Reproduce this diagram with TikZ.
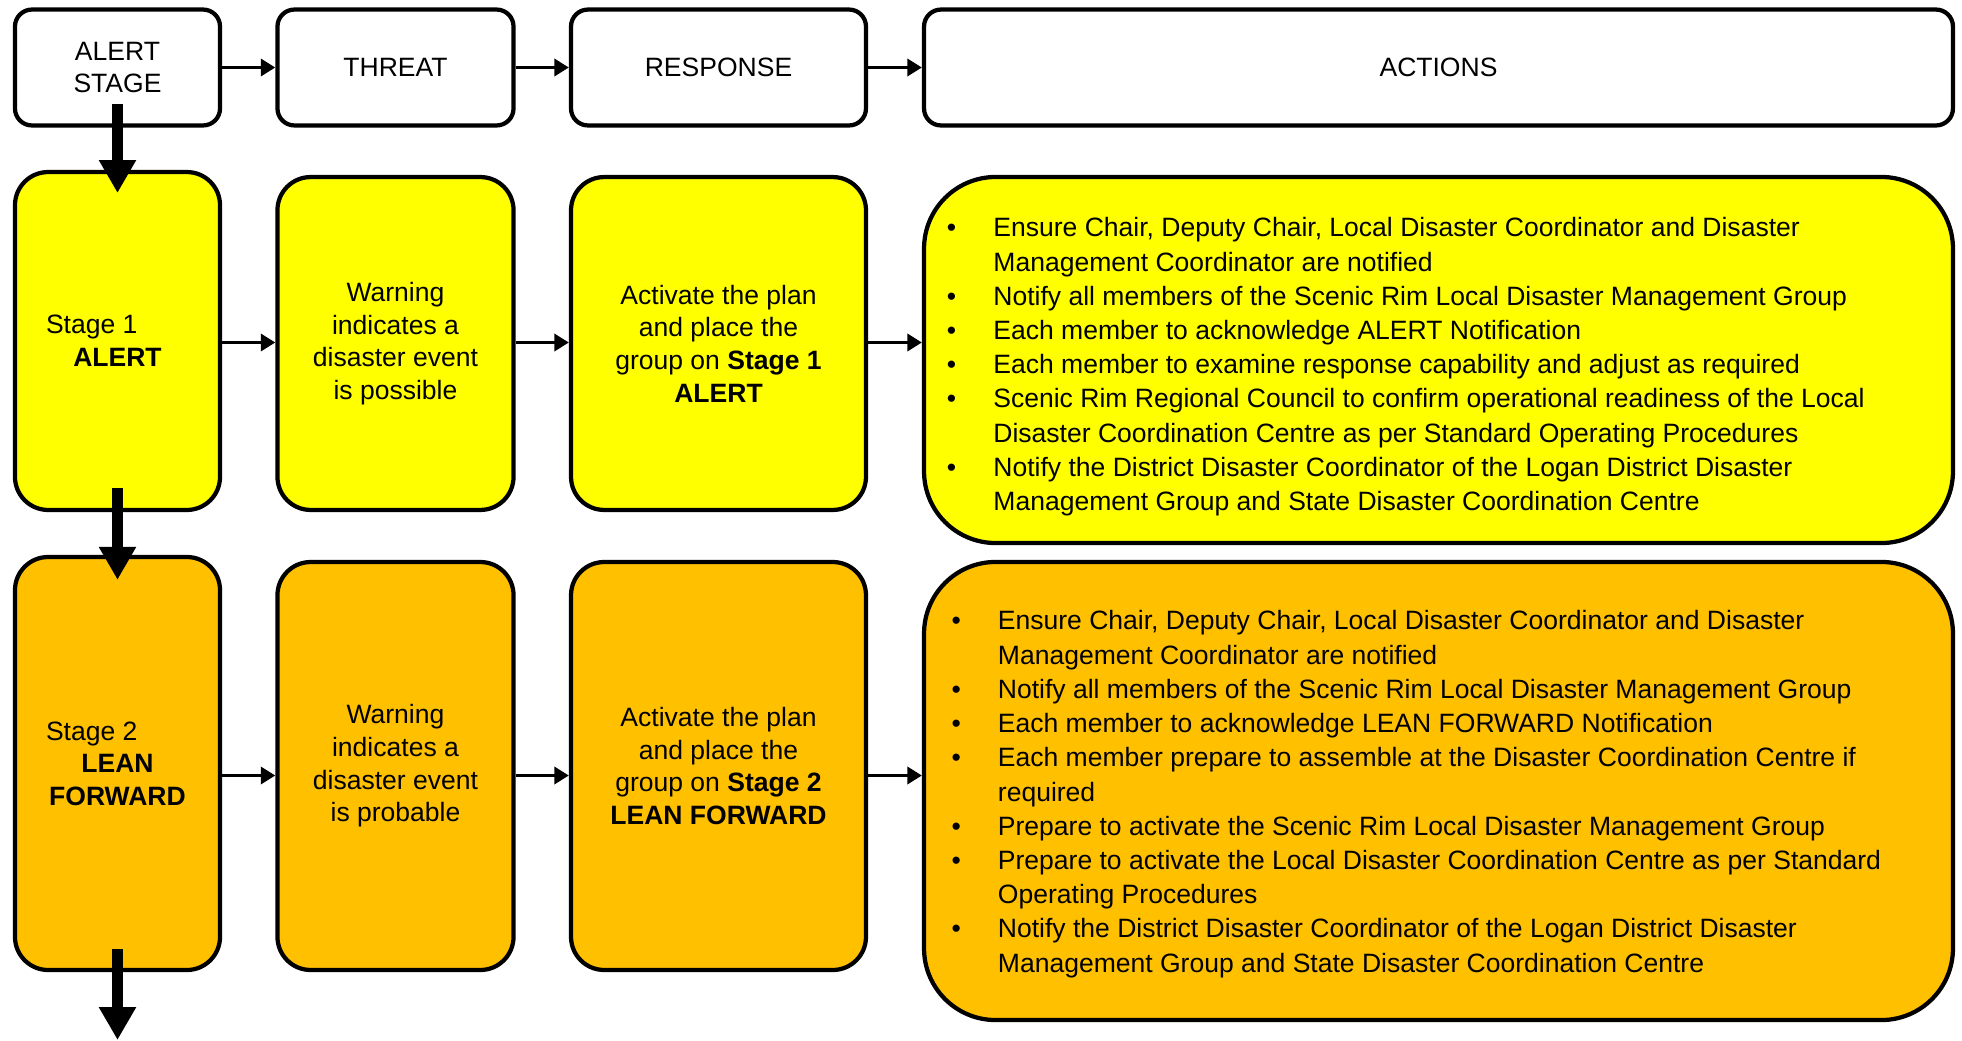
\documentclass[tikz,border=0pt]{standalone}
\usepackage{fontspec}
\setmainfont{Liberation Sans}
\usepackage{array}
\usetikzlibrary{arrows.meta}
\definecolor{alertyellow}{HTML}{FFFF00}
\definecolor{leanorange}{HTML}{FFC000}
\newcommand{\actitem}[1]{\textbullet & #1\\}

\tikzset{
	hdr/.style={draw, line width=1.6pt, rounded corners=6.4pt, minimum height=43.7pt, align=center, font=\fontsize{10}{12.3}\selectfont},
	stagebox/.style={draw, line width=1.6pt, rounded corners=12.5pt, align=center, font=\fontsize{10}{12.3}\selectfont},
	actbox/.style={draw, line width=1.6pt, rounded corners=27pt, minimum width=387.9pt, font=\fontsize{10}{12.9}\selectfont},
	flowarrow/.style={line width=1.5pt, -{Triangle[length=5.5pt,width=6.4pt]}},
	stagearrow/.style={line width=4pt, -{Triangle[length=12.4pt,width=13.2pt]}}
}

\begin{document}
\begin{tikzpicture}[x=0.377pt, y=-0.377pt]
		%%%%% START %%%%%
		\useasboundingbox (0,0) rectangle (1962,1041);
		
		\coordinate (row0) at (0,67.5);
		\coordinate (row1) at (0,342.5);
		\coordinate (row2) at (0,775.5);
		\coordinate (exit) at (117.5,1040);
		
		% header row
		\node[hdr, minimum width=77.3pt] (hAlert) at (117.5,67.5) {ALERT\\STAGE};
		\node[hdr, minimum width=89pt] (hThreat) at (395.5,67.5) {THREAT};
		\node[hdr, minimum width=111.2pt] (hResp) at (718.5,67.5) {RESPONSE};
		\node[hdr, minimum width=387.9pt] (hAct) at (1438.5,67.5) {ACTIONS};
		
		% stage 1
		\node[stagebox, fill=alertyellow, minimum width=77.3pt, minimum height=127.4pt] (s1) at (117.5,341) {Stage 1\hspace*{19.4pt}\\\textbf{ALERT}};
		\node[stagebox, fill=alertyellow, minimum width=89pt, minimum height=125.5pt] (w1) at (395.5,343.5) {Warning\\indicates a\\disaster event\\is possible};
		\node[stagebox, fill=alertyellow, minimum width=111.2pt, minimum height=125.5pt] (r1) at (718.5,343.5) {Activate the plan\\and place the\\group on \textbf{Stage 1}\\\textbf{ALERT}};
		\node[actbox, fill=alertyellow, minimum height=138pt] (a1) at (1438.5,360) {%
			\begin{tabular}{@{}p{17.5pt}@{}p{353.1pt}@{}}\noalign{\vskip 5.2pt}
				\actitem{Ensure Chair, Deputy Chair, Local Disaster Coordinator and Disaster\newline Management Coordinator are notified}
				\actitem{Notify all members of the Scenic Rim Local Disaster Management Group}
				\actitem{Each member to acknowledge ALERT Notification}
				\actitem{Each member to examine response capability and adjust as required}
				\actitem{Scenic Rim Regional Council to confirm operational readiness of the Local\newline Disaster Coordination Centre as per Standard Operating Procedures}
				\actitem{Notify the District Disaster Coordinator of the Logan District Disaster\newline Management Group and State Disaster Coordination Centre}
			\end{tabular}};
		
		% stage 2
		\node[stagebox, fill=leanorange, minimum width=77.3pt, minimum height=155.7pt] (s2) at (117.5,763.5) {Stage 2\hspace*{19.4pt}\\\textbf{LEAN}\\\textbf{FORWARD}};
		\node[stagebox, fill=leanorange, minimum width=89pt, minimum height=153.8pt] (w2) at (395.5,766) {Warning\\indicates a\\disaster event\\is probable};
		\node[stagebox, fill=leanorange, minimum width=111.2pt, minimum height=153.8pt] (r2) at (718.5,766) {Activate the plan\\and place the\\group on \textbf{Stage 2}\\\textbf{LEAN FORWARD}};
		\node[actbox, fill=leanorange, minimum height=172.7pt] (a2) at (1438.5,791) {%
			\begin{tabular}{@{\hspace{1.7pt}}p{17.5pt}@{}p{351.4pt}@{}}\noalign{\vskip 2.4pt}
				\actitem{Ensure Chair, Deputy Chair, Local Disaster Coordinator and Disaster\newline Management Coordinator are notified}
				\actitem{Notify all members of the Scenic Rim Local Disaster Management Group}
				\actitem{Each member to acknowledge LEAN FORWARD Notification}
				\actitem{Each member prepare to assemble at the Disaster Coordination Centre if\newline required}
				\actitem{Prepare to activate the Scenic Rim Local Disaster Management Group}
				\actitem{Prepare to activate the Local Disaster Coordination Centre as per Standard\newline Operating Procedures}
				\actitem{Notify the District Disaster Coordinator of the Logan District Disaster\newline Management Group and State Disaster Coordination Centre}
			\end{tabular}};
		
		% flow along the rows
		\draw[flowarrow] (hAlert.east |- row0) -- (hThreat.west |- row0);
		\draw[flowarrow] (hThreat.east |- row0) -- (hResp.west |- row0);
		\draw[flowarrow] (hResp.east |- row0) -- (hAct.west |- row0);
		
		\draw[flowarrow] (s1.east |- row1) -- (w1.west |- row1);
		\draw[flowarrow] (w1.east |- row1) -- (r1.west |- row1);
		\draw[flowarrow] (r1.east |- row1) -- (a1.west |- row1);
		
		\draw[flowarrow] (s2.east |- row2) -- (w2.west |- row2);
		\draw[flowarrow] (w2.east |- row2) -- (r2.west |- row2);
		\draw[flowarrow] (r2.east |- row2) -- (a2.west |- row2);
		
		% stage arrows down the left
		\draw[stagearrow] ([yshift=8.9pt]hAlert.south) -- ([yshift=-8.7pt]s1.north);
		\draw[stagearrow] ([yshift=9pt]s1.south) -- ([yshift=-9.4pt]s2.north);
		\draw[stagearrow] ([yshift=8.7pt]s2.south) -- (exit);
		
		%%%%% END %%%%%
\end{tikzpicture}
\end{document}
